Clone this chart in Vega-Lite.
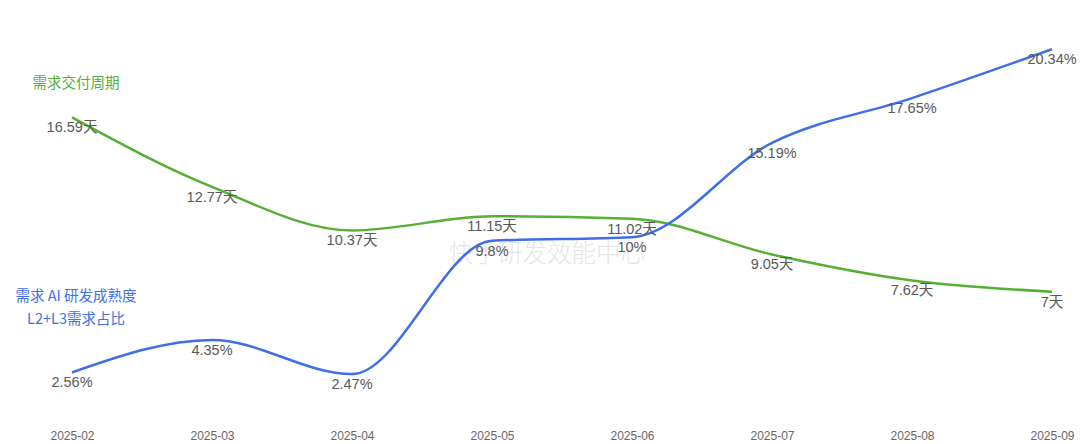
{
  "$schema": "https://vega.github.io/schema/vega-lite/v6.json",
  "width": 980,
  "height": 400,
  "autosize": "none",
  "padding": {"left": 72, "top": 19, "right": 28, "bottom": 25},
  "background": "white",
  "config": {"view": {"stroke": null}, "font": "Liberation Sans, Noto Sans CJK SC"},
  "datasets": {
    "pts": [
      {"month": "2025-02", "series": "需求交付周期", "value": 16.59, "label": "16.59天"},
      {"month": "2025-03", "series": "需求交付周期", "value": 12.77, "label": "12.77天"},
      {"month": "2025-04", "series": "需求交付周期", "value": 10.37, "label": "10.37天"},
      {"month": "2025-05", "series": "需求交付周期", "value": 11.15, "label": "11.15天"},
      {"month": "2025-06", "series": "需求交付周期", "value": 11.02, "label": "11.02天"},
      {"month": "2025-07", "series": "需求交付周期", "value": 9.05, "label": "9.05天"},
      {"month": "2025-08", "series": "需求交付周期", "value": 7.62, "label": "7.62天"},
      {"month": "2025-09", "series": "需求交付周期", "value": 7, "label": "7天"},
      {"month": "2025-02", "series": "AI", "value": 2.56, "label": "2.56%"},
      {"month": "2025-03", "series": "AI", "value": 4.35, "label": "4.35%"},
      {"month": "2025-04", "series": "AI", "value": 2.47, "label": "2.47%"},
      {"month": "2025-05", "series": "AI", "value": 9.8, "label": "9.8%"},
      {"month": "2025-06", "series": "AI", "value": 10, "label": "10%"},
      {"month": "2025-07", "series": "AI", "value": 15.19, "label": "15.19%"},
      {"month": "2025-08", "series": "AI", "value": 17.65, "label": "17.65%"},
      {"month": "2025-09", "series": "AI", "value": 20.34, "label": "20.34%"}
    ],
    "titles": [
      {"month": "2025-02", "series": "需求交付周期", "value": 18.45, "note": "需求交付周期"},
      {"month": "2025-02", "series": "AI", "value": 6.7, "note": "需求 AI 研发成熟度\nL2+L3需求占比"}
    ],
    "wm": [
      {"month": "2025-05", "value": 9.0, "note": "快手研发效能中心"}
    ]
  },
  "encoding": {
    "x": {"field": "month", "type": "ordinal", "scale": {"type": "point", "padding": 0},
          "axis": {"title": null, "domain": false, "ticks": false, "labelAngle": 0, "labelPadding": 11, "labelFontSize": 12, "labelColor": "#666666", "labelFont": "Liberation Sans"}},
    "y": {"field": "value", "type": "quantitative", "scale": {"domain": [0, 22], "nice": false}, "axis": null}
  },
  "layer": [
    {
      "data": {"name": "wm"},
      "mark": {"type": "text", "fontSize": 24.5, "color": "#e6e6e6", "dx": 55, "font": "Noto Sans CJK SC", "fontWeight": 300},
      "encoding": {"text": {"field": "note"}}
    },
    {
      "data": {"name": "pts"},
      "mark": {"type": "line", "interpolate": "monotone", "strokeWidth": 2.5},
      "encoding": {
        "color": {"field": "series", "type": "nominal", "scale": {"domain": ["需求交付周期", "AI"], "range": ["#55b034", "#3e6fe8"]}, "legend": null}
      }
    },
    {
      "data": {"name": "pts"},
      "mark": {"type": "text", "fontSize": 14.5, "color": "#595959", "dy": 11, "baseline": "middle"},
      "encoding": {"text": {"field": "label"}}
    },
    {
      "data": {"name": "titles"},
      "mark": {"type": "text", "fontSize": 14.5, "dx": 4, "lineHeight": 23, "lineBreak": "\n", "baseline": "middle", "font": "Noto Sans CJK SC, Liberation Sans"},
      "encoding": {
        "text": {"field": "note"},
        "color": {"field": "series", "type": "nominal", "legend": null}
      }
    }
  ]
}
